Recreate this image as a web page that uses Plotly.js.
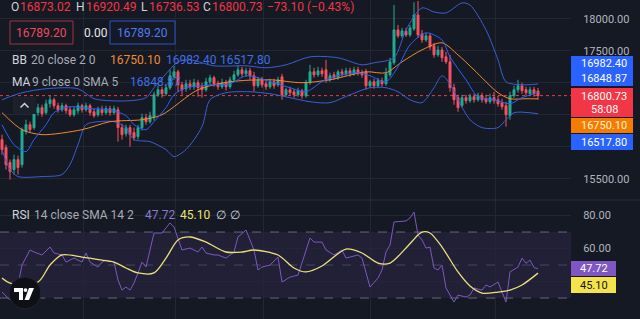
<!DOCTYPE html>
<html><head><meta charset="utf-8">
<script src="https://cdn.plot.ly/plotly-3.0.1.min.js"></script>
<style>html,body{margin:0;padding:0;background:#151924;overflow:hidden}#chart{width:640px;height:319px}</style>
</head><body><div id="chart"></div>
<script>
// ---- price candles (one per bar) ----
const open=[16112,15988,15754,15644,15800,15722,16237,16346,16300,16534,
16612,16534,16674,16736,16643,16580,16643,16580,16502,16565,
16643,16580,16643,16549,16502,16580,16534,16596,16534,16580,
16300,16206,16300,16222,16159,16300,16456,16393,16456,16814,
16892,16830,16924,17095,17173,16970,16908,16986,16939,17002,
16939,16892,17017,17080,16986,16939,17002,16939,17048,17126,
17204,17142,17189,17111,16955,17048,16986,16939,17017,16970,
17095,16814,16892,16861,16814,16877,16799,17002,17173,17126,
17189,17204,17048,17126,17080,17173,17142,17189,17142,17204,
17158,17173,16955,17017,16955,17033,16986,17126,17314,17828,
17735,17813,17750,17844,18062,17766,17672,17735,17579,17438,
17516,17407,17329,16924,16768,16643,16768,16721,16783,16736,
16799,16752,16705,16768,16736,16690,16643,16487,16799,16892,
16955,16892,16830,16892,16873.02];
const high=[16190,16034,15800,15878,15863,16300,16424,16393,16612,16674,
16658,16736,16799,16768,16690,16690,16674,16627,16627,16690,
16674,16690,16674,16596,16627,16643,16643,16643,16643,16627,
16362,16346,16346,16300,16346,16518,16518,16549,16861,16955,
16939,16986,17204,17267,17204,17017,17048,17048,17064,17048,
17002,17080,17126,17111,17033,17064,17048,17095,17189,17267,
17251,17236,17236,17173,17095,17095,17048,17064,17064,17095,
17142,16924,16939,16908,16924,16908,17048,17282,17236,17251,
17236,17360,17158,17173,17204,17220,17236,17236,17251,17251,
17204,17220,17048,17064,17080,17080,17236,17392,18218,17906,
17860,17860,17906,18260,18280,17828,17782,17782,17626,17579,
17563,17485,17438,16986,16814,16814,16814,16830,16830,16846,
16846,16814,16830,16861,16799,16752,16705,16861,16955,17048,
17002,16939,16939,16939,16920.49];
const low=[15878,15644,15488,15566,15566,15676,16190,16222,16268,16487,
16471,16502,16612,16596,16534,16549,16518,16471,16471,16518,
16534,16549,16487,16456,16471,16487,16502,16487,16502,16081,
16112,16159,16003,16097,16112,16253,16346,16362,16409,16783,
16768,16799,16892,17048,16861,16814,16861,16892,16892,16783,
16768,16861,16970,16939,16892,16908,16877,16908,17017,17095,
17095,17095,17048,16861,16924,16924,16892,16908,16908,16939,
16736,16783,16799,16768,16783,16752,16768,16970,17080,17095,
17095,17002,17017,17048,17048,17095,17111,17095,17111,17111,
17080,16892,16924,16908,16924,16939,16955,17095,17282,17704,
17704,17719,17719,17813,17704,17626,17641,17516,17392,17407,
17329,17298,16861,16658,16549,16612,16674,16690,16690,16705,
16690,16674,16674,16674,16627,16580,16315,16424,16768,16846,
16830,16799,16799,16783,16736.53];
const close=[15956,15722,15613,15800,15676,16268,16346,16268,16549,16612,
16518,16674,16736,16643,16580,16643,16565,16502,16580,16643,
16580,16643,16534,16487,16580,16534,16596,16534,16596,16300,
16190,16300,16190,16144,16300,16456,16393,16487,16814,16892,
16830,16924,17111,17173,16970,16892,16986,16939,17002,16924,
16892,17017,17080,16986,16939,17002,16939,17048,17126,17204,
17142,17189,17111,16955,17048,16970,16939,17017,16955,17048,
16814,16892,16846,16814,16877,16799,17002,17173,17126,17189,
17142,17048,17111,17080,17173,17142,17189,17142,17204,17158,
17126,16955,17017,16955,17033,16986,17142,17329,17828,17735,
17813,17750,17860,18062,17750,17672,17735,17563,17438,17516,
17392,17329,16924,16736,16612,16768,16721,16783,16736,16799,
16736,16705,16768,16721,16674,16627,16502,16799,16892,16955,
16877,16846,16892,16830,16800.73];

// ---- indicator lines: [bar index, value] ----
const bbUpper=[[0,16736],[5,16846],[11,16908],[19,16908],[23,16752],[27,16721],[32,16721],[36,16768],[38,16924],[41,17142],[44,17329],[47,17360],[53,17267],[61,17267],[66,17236],[71,17282],[77,17407],[84,17392],[90,17282],[93,17314],[98,17392],[101,17828],[105,18172],[108,18109],[111,18094],[115,18250],[117,18218],[121,17828],[124,17360],[126,17017],[130,16970],[134,16982.40]];
const bbLower=[[0,15956],[2,15644],[4,15535],[10,15535],[15,15566],[17,15722],[19,16034],[21,16346],[24,16393],[28,16393],[31,16300],[33,16112],[37,16081],[41,15956],[43,15847],[46,15956],[50,16315],[52,16736],[56,16846],[62,16861],[67,16830],[72,16768],[77,16705],[82,16690],[87,16814],[92,16924],[96,16924],[99,16861],[102,16736],[105,16690],[108,16924],[110,17111],[112,16986],[114,16736],[117,16424],[120,16300],[124,16300],[126,16424],[128,16534],[134,16517.80]];
const bbBasis=[[0,16534],[5,16268],[10,16190],[20,16268],[27,16393],[35,16424],[40,16502],[49,16892],[57,17017],[67,17048],[75,17002],[82,17048],[91,17173],[96,17158],[100,17329],[105,17516],[110,17626],[114,17438],[118,17204],[124,16846],[127,16752],[131,16752],[134,16750.10]];
const ma9=[[0,16346],[3,16034],[6,15925],[8,16112],[11,16346],[13,16534],[17,16627],[22,16596],[27,16580],[31,16487],[33,16346],[36,16268],[38,16393],[41,16612],[43,16814],[46,16924],[50,16955],[53,16970],[57,16986],[61,17111],[64,17080],[68,17002],[72,16924],[76,16861],[80,17017],[84,17111],[89,17158],[92,17111],[96,17017],[99,17251],[102,17594],[106,17782],[110,17672],[112,17407],[116,17048],[119,16783],[123,16736],[127,16674],[130,16768],[134,16848.87]];
const rsi=[[0,33.6],[2,28.8],[4,37.9],[5,50],[7,59.1],[8,57.9],[10,56.1],[12,60.9],[13,57.3],[15,56.1],[16,51.8],[18,54.2],[20,51.8],[21,57.3],[22,51.8],[24,48.8],[25,51.8],[26,53.0],[28,51.8],[29,40.9],[30,34.8],[31,36.7],[32,34.8],[33,39.1],[34,45.2],[35,51.8],[36,48.8],[37,59.1],[38,69.4],[40,69.4],[42,75.5],[43,73.0],[44,66.4],[45,59.1],[47,60.3],[49,57.9],[50,60.9],[51,57.3],[53,56.1],[54,56.1],[56,54.2],[58,57.9],[59,67.0],[61,71.2],[63,59.1],[64,47.0],[65,48.8],[67,50.0],[69,54.8],[70,39.7],[72,42.7],[74,43.9],[77,66.4],[78,63.9],[80,63.9],[81,59.1],[83,56.1],[85,59.1],[86,54.2],[89,56.1],[90,54.2],[92,36.7],[94,42.1],[95,47.0],[96,58],[97,62],[98,76.1],[101,76.7],[102,78.5],[103,82.1],[104,68.2],[105,65.2],[106,60.3],[107,60.9],[108,48.2],[109,47.0],[110,50.0],[111,36.1],[113,27.6],[114,31.8],[116,30.6],[117,31.8],[118,36.1],[120,34.8],[121,37.9],[122,36.7],[124,39.7],[125,33.6],[126,27.6],[127,45.8],[129,48.8],[130,54.2],[131,51.0],[132,53.0],[133,48.5],[134,47.72]];
const rsiMA=[[0,42.1],[2,39.1],[9,39.7],[12,50.0],[15,56.1],[20,54.8],[25,53.0],[28,51.8],[31,48.2],[34,45.2],[38,45.2],[41,54.2],[44,65.2],[47,67.0],[51,63.9],[56,57.9],[60,57.9],[63,59.1],[69,56.1],[73,48.2],[76,45.8],[80,49.4],[86,59.7],[90,57.3],[94,51.2],[97,51.2],[101,60.3],[104,68.2],[105,70.0],[107,69.4],[110,60.9],[114,45.8],[117,37.3],[120,33.0],[124,33.6],[127,34.8],[130,37.9],[134,45.10]];

const priceTicks=[15500,16000,16500,17000,17500,18000];
const priceTickShown=[true,false,false,false,true,true];   // others hidden behind price labels
const rsiTicks=[40,60,80];
const rsiTickShown=[false,true,true];
const rsiLevels=[70,50,30];
const change=-73.10, changePct=-0.43;
const bandLast=16750.10, upperLast=16982.40, lowerLast=16517.80, maLast=16848.87;
const rsiLast=47.72, rsiMALast=45.10;
const boxVal=16789.20, spread=0.00;
const timeGrid=[20.25,43.25,65.25,92,123.25];

const idx=open.map((_,i)=>i);
const F='Roboto, "Liberation Sans", sans-serif';
const PW=571, PH=319;
const X=p=>p/PW, Y=p=>1-p/PH;
const f2=v=>v.toFixed(2);
const col={up:'#22ab94',dn:'#f7525f',blue:'#2962ff',band:'#3a5fd6',orange:'#f08a30',purple:'#7e57c2',yellow:'#ede07a',txt:'#d1d4dc',dim:'#a8abb4',red:'#f23645'};

function line(pts,color,w,shape,xa,ya){return {type:'scatter',mode:'lines',x:pts.map(p=>p[0]),y:pts.map(p=>p[1]),line:{color:color,width:w,shape:shape||'linear',smoothing:0.8},xaxis:xa||'x',yaxis:ya||'y',hoverinfo:'skip'};}

const traces=[
 {type:'candlestick',x:idx,open:open,high:high,low:low,close:close,xaxis:'x',yaxis:'y',
  increasing:{line:{color:col.up,width:1},fillcolor:col.up},decreasing:{line:{color:col.dn,width:1},fillcolor:col.dn},hoverinfo:'skip'},
 line(bbUpper,col.band,1,'spline'),
 line(bbLower,col.band,1,'spline'),
 line(bbBasis,col.orange,1,'spline'),
 line(ma9,col.blue,1,'spline'),
 line(rsi,col.purple,1,'linear','x2','y2'),
 line(rsiMA,col.yellow,1.3,'spline','x2','y2')
];

const ann=[];
function T(x,y,text,color,size,anchor){ann.push({xref:'paper',yref:'paper',x:X(x),y:Y(y),text:text,showarrow:false,xanchor:anchor||'left',yanchor:'middle',font:{family:F,size:size||12,color:color}});}
// row 1
T(9,7,'O',col.txt); T(18,7,f2(open[134]),col.red);
T(74,7,'H',col.txt); T(84,7,f2(high[134]),col.red);
T(139,7,'L',col.txt); T(147,7,f2(low[134]),col.red);
T(201,7,'C',col.txt); T(210,7,f2(close[134]),col.red);
T(265,7,'\u2212'+Math.abs(change).toFixed(2)+' (\u2212'+Math.abs(changePct).toFixed(2)+'%)',col.red);
// row 2
T(41.5,33,f2(boxVal),'#f04a5a',12,'center');
T(82,33,f2(spread),'#e6e8ee');
T(142.5,33,f2(boxVal),'#4d7bf3',12,'center');
// row 3
T(10,60,'BB',col.txt); T(29,60,'20 close 2 0',col.dim);
T(108,60,f2(bandLast),col.orange); T(164,60,f2(upperLast),'#3f6fe8'); T(218,60,f2(lowerLast),'#3f6fe8');
// row 4
T(10,82,'MA',col.txt); T(30,82,'9 close 0 SMA 5',col.dim);
T(128,82,f2(maLast),'#3f6fe8');
// RSI row
T(10,215,'RSI',col.txt); T(32,215,'14 close SMA 14 2',col.dim);
T(143,215,f2(rsiLast),'#8c7ad0'); T(178,215,f2(rsiMALast),'#f1e36a'); T(214,215,'\u2205',col.txt); T(228,215,'\u2205',col.txt);

// right price labels
const shapes=[];
function box(x0,x1,y0,y1,fill,lineColor){shapes.push({type:'rect',xref:'paper',yref:'paper',x0:X(x0),x1:X(x1),y0:Y(y1),y1:Y(y0),fillcolor:fill,line:{color:lineColor||fill,width:lineColor?1:0},layer:'above'});}
box(571,633,56,71,'#2962ff'); T(604,63.5,f2(upperLast),'#ffffff',11,'center');
box(571,633,71,86,'#2962ff'); T(604,78.5,f2(maLast),'#ffffff',11,'center');
box(571,633,88,117,'#f23645'); T(604,96,f2(close[134]),'#ffffff',11,'center'); T(604,109,'58:08','#ffffff',11,'center');
box(571,633,118,133,'#f57c00'); T(604,125.5,f2(bandLast),'#fff6d0',11,'center');
box(571,633,134,150,'#2962ff'); T(604,142,f2(lowerLast),'#ffffff',11,'center');
box(571,616,261,276,'#7e57c2'); T(593.5,268.5,f2(rsiLast),'#ffffff',11,'center');
box(571,616,277,293,'#f5e34a'); T(593.5,285,f2(rsiMALast),'#131722',11,'center');
// legend boxes row 2
box(10,73,21,44,'rgba(0,0,0,0)','#a8323f');
box(110,175,21,44,'rgba(0,0,0,0)','#2f55c8');

// RSI zone and levels
shapes.push({type:'rect',xref:'paper',yref:'y2',x0:0,x1:1,y0:30,y1:70,fillcolor:'rgba(126,87,194,0.12)',line:{width:0},layer:'below'});
rsiLevels.forEach(v=>shapes.push({type:'line',xref:'paper',yref:'y2',x0:0,x1:1,y0:v,y1:v,line:{color:v===50?'rgba(120,123,134,0.45)':'rgba(120,123,134,0.8)',width:1,dash:'dash'},layer:'below'}));
// current price line
shapes.push({type:'line',xref:'paper',yref:'y',x0:0,x1:1,y0:close[134],y1:close[134],line:{color:'#f23645',width:1,dash:'dot'},layer:'below'});
// pane separator
shapes.push({type:'line',xref:'paper',yref:'paper',x0:0,x1:X(640),y0:Y(200),y1:Y(200),line:{color:'#2a2e39',width:1},layer:'above'});
// collapse button
box(13,36,97,114,'#1c202b');
const P=(x,y)=>X(x)+','+Y(y);
shapes.push({type:'path',xref:'paper',yref:'paper',path:'M'+P(20.5,107.5)+' L'+P(24.5,103.5)+' L'+P(28.5,107.5),line:{color:'#d1d4dc',width:1.5},layer:'above'});
// logo
shapes.push({type:'circle',xref:'paper',yref:'paper',x0:X(9),x1:X(41),y0:Y(309),y1:Y(277),fillcolor:'#0e1015',line:{color:'#23262f',width:1},layer:'above'});
shapes.push({type:'path',xref:'paper',yref:'paper',path:'M'+P(14,288)+' L'+P(23,288)+' L'+P(23,300)+' L'+P(19,300)+' L'+P(19,292)+' L'+P(14,292)+' Z',fillcolor:'#ffffff',line:{width:0},layer:'above'});
shapes.push({type:'circle',xref:'paper',yref:'paper',x0:X(23.6),x1:X(27.4),y0:Y(292),y1:Y(288.2),fillcolor:'#ffffff',line:{width:0},layer:'above'});
shapes.push({type:'path',xref:'paper',yref:'paper',path:'M'+P(29,288)+' L'+P(34,288)+' L'+P(29,300)+' L'+P(24.5,300)+' Z',fillcolor:'#ffffff',line:{width:0},layer:'above'});

const gridC='#232734';
const xa={domain:[0,1],range:[-0.5,142.25],showticklabels:false,tickvals:timeGrid,showgrid:true,gridcolor:gridC,zeroline:false,showline:false,ticks:'',fixedrange:true,rangeslider:{visible:false}};
const layout={
 width:640,height:319,margin:{l:0,r:69,t:0,b:0,pad:0},
 paper_bgcolor:'#151924',plot_bgcolor:'#151924',showlegend:false,
 xaxis:Object.assign({anchor:'y'},xa),
 xaxis2:Object.assign({anchor:'y2'},xa),
 yaxis:{domain:[0.3746,1],range:[15176,18296],side:'right',tickvals:priceTicks,ticktext:priceTicks.map((v,i)=>priceTickShown[i]?f2(v):''),
   tickfont:{family:F,size:11,color:'#b2b5be'},ticks:'outside',ticklen:9,tickcolor:'rgba(0,0,0,0)',showgrid:true,gridcolor:gridC,zeroline:false,showline:false,fixedrange:true},
 yaxis2:{domain:[0,0.373],range:[17.3,89.4],side:'right',tickvals:rsiTicks,ticktext:rsiTicks.map((v,i)=>rsiTickShown[i]?f2(v):''),
   tickfont:{family:F,size:11,color:'#b2b5be'},ticks:'outside',ticklen:9,tickcolor:'rgba(0,0,0,0)',showgrid:true,gridcolor:gridC,zeroline:false,showline:false,fixedrange:true},
 annotations:ann,shapes:shapes
};
Plotly.newPlot('chart',traces,layout,{staticPlot:true,displayModeBar:false});
</script></body></html>
